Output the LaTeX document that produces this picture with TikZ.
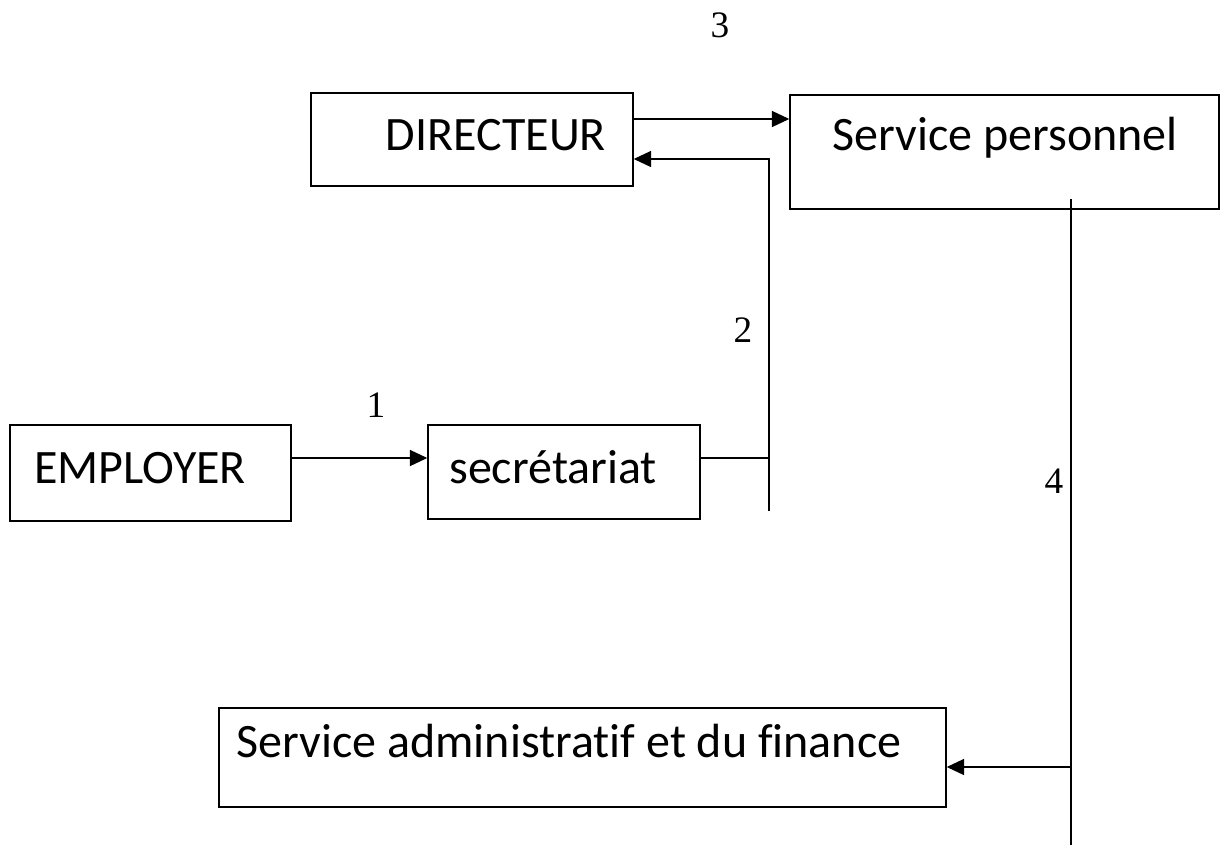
\documentclass[tikz,border=0pt]{standalone}
\usepackage{fontspec}
\setmainfont{Liberation Serif}
\newfontfamily\boxfont[Ligatures=NoCommon]{Carlito}
\usetikzlibrary{arrows.meta,fit}

\tikzset{
  box/.style={draw, line width=1.1pt, inner sep=0pt},
  boxtext/.style={font=\boxfont\fontsize{36}{42}\selectfont, anchor=base, inner sep=0pt},
  numlabel/.style={font=\fontsize{28}{32}\selectfont, anchor=base, inner sep=0pt},
  link/.style={line width=1.1pt},
  arr/.style={link, -{Triangle[length=13pt,width=12pt]}},
}

\begin{document}
\begin{tikzpicture}[x=0.75pt, y=-0.75pt]
  \useasboundingbox (0,0) rectangle (1226,846);

  % corner points of the boxes
  \coordinate (dirA) at (311,93);   \coordinate (dirB) at (633,186);
  \coordinate (spA)  at (790,95);   \coordinate (spB)  at (1219,209);
  \coordinate (empA) at (10,425);   \coordinate (empB) at (291,521);
  \coordinate (secA) at (428,425);  \coordinate (secB) at (700,519);
  \coordinate (admA) at (219,708);  \coordinate (admB) at (946,807);

  % boxes
  \node[box, fit=(dirA) (dirB)] (dir) {};
  \node[box, fit=(spA) (spB)] (sp) {};
  \node[box, fit=(empA) (empB)] (emp) {};
  \node[box, fit=(secA) (secB)] (sec) {};
  \node[box, fit=(admA) (admB)] (adm) {};

  % box captions
  \node[boxtext] (dirtxt) at (496,150) {DIRECTEUR};
  \node[boxtext] (sptxt) at (1005,150) {Service personnel};
  \node[boxtext] (emptxt) at (140,483) {EMPLOYER};
  \node[boxtext] (sectxt) at (553,483) {secrétariat};
  \node[boxtext] (admtxt) at (569,757) {Service administratif et du finance};

  % routing points
  \coordinate (y1) at (0,458);
  \coordinate (y3) at (0,119);
  \coordinate (y4) at (0,767);
  \coordinate (j2top) at (769,159);
  \coordinate (j2bot) at (769,511);
  \coordinate (j4top) at (1071,199);
  \coordinate (j4bot) at (1071,845);

  % connectors
  \draw[arr] (emp.east |- y1) -- (sec.west |- y1);
  \draw[link] (sec.east |- y1) -- (j2top |- y1);
  \draw[arr] (j2bot) -- (j2top) -- (dir.east |- j2top);
  \draw[arr] (dir.east |- y3) -- (sp.west |- y3);
  \draw[link] (j4top) -- (j4bot);
  \draw[arr] (j4top |- y4) -- (adm.east |- y4);

  % step numbers
  \node[numlabel] (n1) at (376,417) {1};
  \node[numlabel] (n2) at (743,342) {2};
  \node[numlabel] (n3) at (720,37) {3};
  \node[numlabel] (n4) at (1054,493) {4};
\end{tikzpicture}
\end{document}
